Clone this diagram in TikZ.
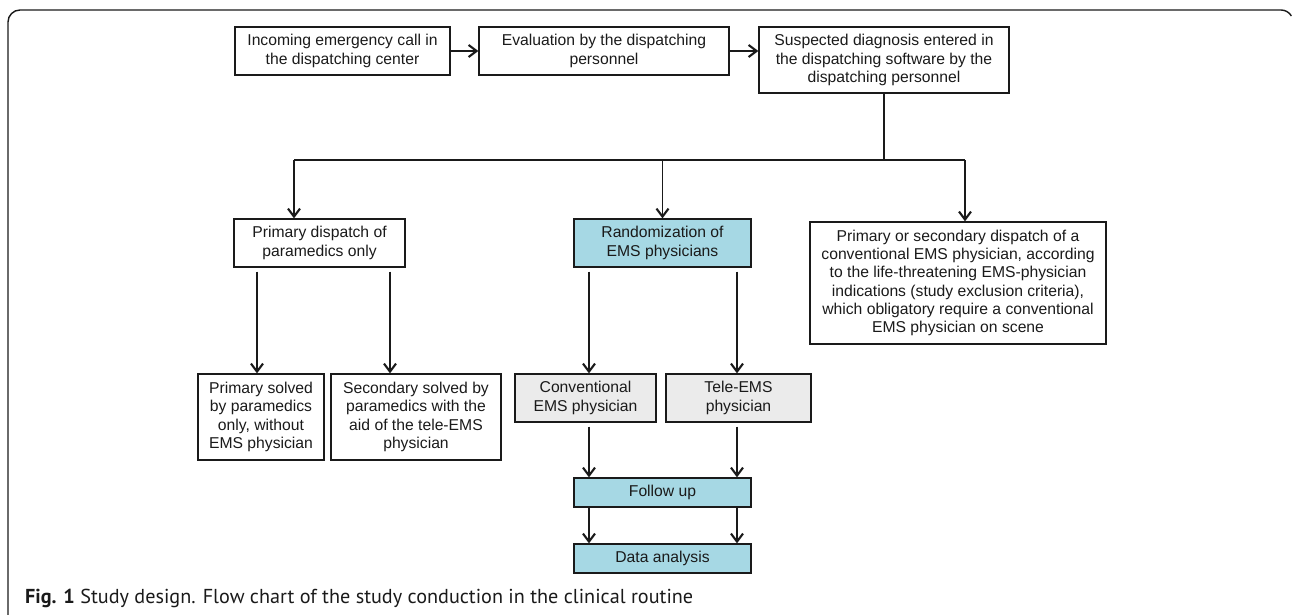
\documentclass[tikz,border=0pt]{standalone}
\usepackage{fontspec}
\setmainfont{Liberation Sans}
\newfontfamily\capfont{PT Sans}
\usetikzlibrary{arrows.meta}
\definecolor{boxblue}{HTML}{A6D8E4}
\definecolor{boxgray}{HTML}{EBEBEB}
\definecolor{ink}{HTML}{1A1A1A}
\begin{document}
\begin{tikzpicture}[x=1pt,y=-1pt,
  box/.style={draw=ink, line width=1.3pt, inner sep=0pt, align=center,
    font=\fontsize{15.7}{18.3}\selectfont, text=ink},
  bluebox/.style={box, fill=boxblue},
  graybox/.style={box, fill=boxgray},
  conn/.style={draw=ink, line width=1.4pt},
  arr/.style={conn, -{Straight Barb[length=8pt,width=12pt,line width=2.1pt]}},
  gap/.style={shorten <=4pt}]
\useasboundingbox (0,0) rectangle (1292,615);
% frame
\draw[ink, line width=1.4pt] (8,615) -- (8,22) arc[start angle=180, end angle=270, radius=12]
  -- (1281,10) arc[start angle=270, end angle=330, radius=12];
% top row
\node[box, minimum width=215pt, minimum height=48pt] (A) at (342.5,51)
  {Incoming emergency call in\\the dispatching center};
\node[box, minimum width=250pt, minimum height=48pt] (B) at (604,51)
  {Evaluation by the dispatching\\personnel};
\node[box, minimum width=250pt, minimum height=66pt] (C) at (884,60)
  {Suspected diagnosis entered in\\the dispatching software by the\\dispatching personnel};
% second row
\node[box, minimum width=171pt, minimum height=48pt] (P) at (319.5,243)
  {Primary dispatch of\\paramedics only};
\node[bluebox, minimum width=177pt, minimum height=48pt] (R) at (662.5,243)
  {Randomization of\\EMS physicians};
\node[box, minimum width=296pt, minimum height=122pt] (X) at (958,283)
  {Primary or secondary dispatch of a\\conventional EMS physician, according\\to the life-threatening EMS-physician\\indications (study exclusion criteria),\\which obligatory require a conventional\\EMS physician on scene};
% third row
\node[box, minimum width=126pt, minimum height=86pt] (S1) at (261,417)
  {Primary solved\\by paramedics\\only, without\\EMS physician};
\node[box, minimum width=170pt, minimum height=86pt] (S2) at (416,417)
  {Secondary solved by\\paramedics with the\\aid of the tele-EMS\\physician};
\node[graybox, minimum width=141pt, minimum height=48pt] (CE) at (585.5,398)
  {Conventional\\EMS physician};
\node[graybox, minimum width=145pt, minimum height=48pt] (TE) at (738.5,398)
  {Tele-EMS\\physician};
% bottom
\node[bluebox, minimum width=177pt, minimum height=29pt] (F) at (662.5,492.5) {Follow up};
\node[bluebox, minimum width=177pt, minimum height=29pt] (D) at (662.5,558.5) {Data analysis};
% caption
\node[anchor=base west, inner sep=0pt, text=ink] (cap) at (25,603)
  {\resizebox{668pt}{!}{\capfont\textbf{Fig. 1} Study design. Flow chart of the study conduction in the clinical routine}};
% connectors
\draw[arr] (A.east) -- (B.west);
\draw[arr] (B.east) -- (B.east -| C.west);
\coordinate (J) at (884,160);
\coordinate (HL) at (294,160);
\coordinate (HR) at (965,160);
\draw[conn] (C.south) -- (J);
\draw[conn] (HL) -- (HR);
\draw[arr] (HL) -- (HL |- P.north);
\draw[arr] (R.north |- HL) -- (R.north);
\draw[arr] (HR) -- (HR |- X.north);
\draw[arr, gap] ([xshift=-62.5pt]P.south) -- ([xshift=-62.5pt]P.south |- S1.north);
\draw[arr, gap] ([xshift=70.5pt]P.south) -- ([xshift=70.5pt]P.south |- S2.north);
\draw[arr, gap] ([xshift=-73.5pt]R.south) -- ([xshift=-73.5pt]R.south |- CE.north);
\draw[arr, gap] ([xshift=74.5pt]R.south) -- ([xshift=74.5pt]R.south |- TE.north);
\draw[arr, gap] ([xshift=3.5pt]CE.south) -- ([xshift=3.5pt]CE.south |- F.north);
\draw[arr, gap] ([xshift=-1.5pt]TE.south) -- ([xshift=-1.5pt]TE.south |- F.north);
\draw[arr] ([xshift=-73.5pt]F.south) -- ([xshift=-73.5pt]F.south |- D.north);
\draw[arr] ([xshift=74.5pt]F.south) -- ([xshift=74.5pt]F.south |- D.north);
\end{tikzpicture}
\end{document}
